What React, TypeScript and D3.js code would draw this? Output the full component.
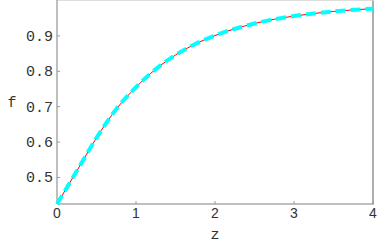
import * as d3 from 'd3'

// values
const zValues = [0, 0.25, 0.5, 0.75, 1, 1.25, 1.5, 1.75, 2, 2.5, 3, 3.5, 4]
const fValues = [0.425, 0.518, 0.612, 0.693, 0.755, 0.806, 0.846, 0.877, 0.901, 0.935, 0.956, 0.969, 0.977]
const xTicks = [0, 1, 2, 3, 4]
const yTicks = [0.5, 0.6, 0.7, 0.8, 0.9]

export default function App() {
  const width = 382
  const height = 246
  const left = 57
  const right = 373
  const top = 0.5
  const bottom = 204

  const x = d3.scaleLinear().domain([0, 4]).range([left, right])
  const y = d3.scaleLinear().domain([0.425, 1.0]).range([bottom, top])

  const pts = zValues.map((z, i) => [z, fValues[i]] as [number, number])
  const line = d3
    .line<[number, number]>()
    .x(d => x(d[0]))
    .y(d => y(d[1]))
    .curve(d3.curveMonotoneX)
  const path = line(pts) ?? ''

  return (
    <svg
      width={width}
      height={height}
      style={{ position: 'absolute', left: 0, top: 0, background: '#fff' }}
    >
      {/* frame */}
      <line x1={left} x2={right} y1={top} y2={top} stroke="#ddd" strokeWidth={1} />
      <line x1={right} x2={right} y1={top} y2={bottom} stroke="#777" strokeWidth={1.2} />
      <line x1={left} x2={left} y1={0} y2={bottom} stroke="#aaa" strokeWidth={1.5} />
      <line x1={left} x2={right + 1} y1={bottom} y2={bottom} stroke="#aaa" strokeWidth={1.5} />

      {/* y ticks */}
      {yTicks.map(t => (
        <g key={t}>
          <line x1={left} x2={left + 3} y1={y(t)} y2={y(t)} stroke="#999" strokeWidth={1} />
          <text
            x={53}
            y={y(t) + 5}
            textAnchor="end"
            fontFamily="Liberation Mono, monospace"
            fontSize={15}
            fill="#333"
          >
            {t.toFixed(1)}
          </text>
        </g>
      ))}

      {/* x ticks */}
      {xTicks.map(t => (
        <g key={t}>
          <line x1={x(t)} x2={x(t)} y1={bottom} y2={bottom - 3} stroke="#999" strokeWidth={1} />
          <text
            x={x(t)}
            y={218}
            textAnchor="middle"
            fontFamily="Liberation Sans, sans-serif"
            fontSize={14}
            fill="#333"
          >
            {t}
          </text>
        </g>
      ))}

      <text x={12} y={107} textAnchor="middle" fontFamily="Liberation Mono, monospace" fontSize={15} fill="#333">
        f
      </text>
      <text x={x(2)} y={239} textAnchor="middle" fontFamily="Liberation Mono, monospace" fontSize={15} fill="#333">
        z
      </text>

      {/* curves */}
      <path d={path} fill="none" stroke="#ff0000" strokeWidth={1} />
      <path d={path} fill="none" stroke="#00ffff" strokeWidth={4} strokeDasharray="10 5" />
    </svg>
  )
}
